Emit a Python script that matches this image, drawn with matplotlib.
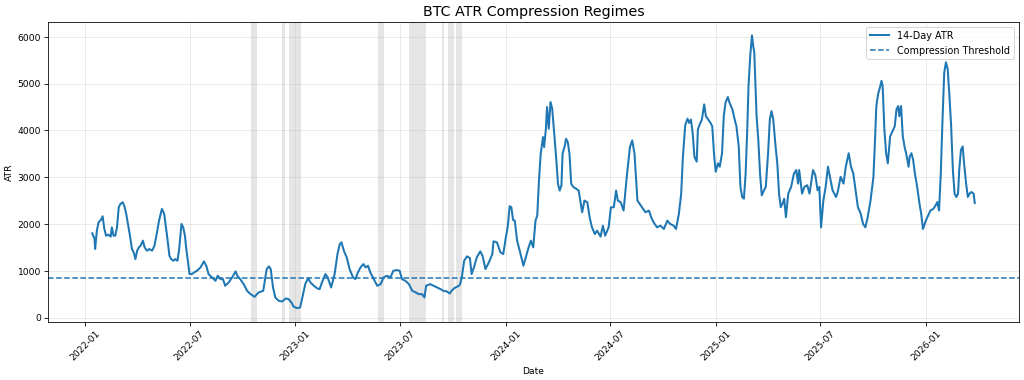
import matplotlib
matplotlib.use("Agg")
import matplotlib.pyplot as plt
import matplotlib.dates as mdates
import pandas as pd

# 14-day ATR readings, month-day per year
dates_2022 = ["01-13", "01-17", "01-18", "01-21", "01-24", "01-28", "01-31", "02-03", "02-06", "02-10",
              "02-14", "02-16", "02-19", "02-22", "02-25", "02-28", "03-03", "03-07", "03-10", "03-13",
              "03-16", "03-19", "03-23", "03-26", "03-29", "04-01", "04-04", "04-07", "04-11", "04-14",
              "04-18", "04-22", "04-27", "05-01", "05-05", "05-09", "05-14", "05-18", "05-21", "05-24",
              "05-27", "05-30", "06-03", "06-06", "06-10", "06-13", "06-17", "06-20", "06-23", "06-25",
              "06-28", "07-01", "07-05", "07-09", "07-14", "07-20", "07-26", "07-30", "08-03", "08-09",
              "08-15", "08-19", "08-24", "08-28", "09-01", "09-07", "09-13", "09-19", "09-22", "09-27",
              "10-03", "10-09", "10-15", "10-22", "10-29", "11-06", "11-12", "11-16", "11-19", "11-23",
              "11-27", "12-03", "12-09", "12-15", "12-20", "12-25", "12-29"]
atr_2022 = [1800, 1680, 1465, 1857, 2036, 2086, 2164, 1893, 1750, 1771,
            1729, 1929, 1750, 1750, 1929, 2357, 2429, 2464, 2371, 2214,
            2000, 1786, 1464, 1393, 1250, 1429, 1500, 1536, 1643, 1500,
            1429, 1464, 1429, 1536, 1786, 2071, 2321, 2214, 1929, 1643,
            1321, 1250, 1214, 1250, 1214, 1464, 2000, 1929, 1750, 1500,
            1214, 929, 929, 964, 1000, 1071, 1200, 1107, 929, 857,
            786, 893, 821, 821, 679, 750, 857, 986, 893, 821,
            714, 571, 500, 443, 536, 571, 1036, 1093, 1036, 643,
            429, 357, 343, 407, 393, 321, 229]

dates_2023 = ["01-04", "01-09", "01-13", "01-18", "01-23", "01-27", "02-02", "02-08", "02-12", "02-16",
              "02-22", "02-26", "03-04", "03-10", "03-15", "03-19", "03-22", "03-26", "03-31", "04-05",
              "04-11", "04-15", "04-19", "04-24", "04-29", "05-03", "05-07", "05-11", "05-17", "05-23",
              "05-29", "06-03", "06-09", "06-15", "06-20", "06-26", "07-01", "07-05", "07-11", "07-17",
              "07-23", "07-29", "08-03", "08-09", "08-13", "08-16", "08-23", "08-29", "09-04", "09-10",
              "09-15", "09-21", "09-26", "09-30", "10-06", "10-12", "10-14", "10-17", "10-21", "10-26",
              "10-31", "11-03", "11-07", "11-12", "11-18", "11-22", "11-27", "12-03", "12-09", "12-11",
              "12-17", "12-23", "12-28"]
atr_2023 = [200, 214, 429, 714, 843, 750, 679, 621, 607, 750,
            929, 857, 643, 929, 1357, 1571, 1607, 1429, 1286, 1036,
            857, 821, 950, 1071, 1143, 1071, 1107, 964, 821, 679,
            714, 857, 893, 857, 1000, 1014, 1000, 821, 786, 714,
            571, 536, 500, 500, 429, 679, 714, 679, 643, 607,
            571, 557, 514, 586, 643, 679, 714, 857, 1214, 1307,
            1271, 929, 1071, 1286, 1414, 1321, 1036, 1179, 1357, 1629,
            1607, 1393, 1357]

dates_2024 = ["01-01", "01-05", "01-08", "01-11", "01-14", "01-17", "01-21", "01-27", "02-01", "02-06",
              "02-10", "02-14", "02-18", "02-22", "02-25", "02-28", "03-02", "03-06", "03-08", "03-11",
              "03-13", "03-16", "03-19", "03-22", "03-25", "03-29", "04-01", "04-04", "04-07", "04-09",
              "04-13", "04-15", "04-18", "04-21", "04-24", "04-28", "05-03", "05-07", "05-13", "05-17",
              "05-22", "05-26", "05-30", "06-04", "06-08", "06-14", "06-18", "06-22", "06-28", "07-02",
              "07-07", "07-11", "07-14", "07-19", "07-24", "07-30", "08-04", "08-08", "08-12", "08-17",
              "08-21", "08-27", "08-31", "09-06", "09-10", "09-14", "09-20", "09-26", "10-02", "10-08",
              "10-13", "10-19", "10-23", "10-28", "11-01", "11-04", "11-08", "11-12", "11-15", "11-18",
              "11-21", "11-24", "11-28", "11-30", "12-03", "12-07", "12-11", "12-14", "12-18", "12-22",
              "12-25", "12-28", "12-31"]
atr_2024 = [1679, 1964, 2379, 2357, 2086, 2071, 1643, 1357, 1107, 1321,
            1500, 1643, 1500, 2071, 2179, 2929, 3500, 3857, 3643, 4036,
            4500, 4036, 4607, 4464, 4000, 3393, 2857, 2714, 2821, 3500,
            3679, 3821, 3750, 3500, 2857, 2786, 2750, 2714, 2250, 2500,
            2464, 2143, 1929, 1786, 1857, 1729, 1964, 1750, 1929, 2357,
            2357, 2714, 2500, 2464, 2286, 3071, 3643, 3786, 3500, 2500,
            2429, 2321, 2250, 2286, 2143, 2036, 1929, 1964, 1893, 2071,
            2000, 1964, 1893, 2214, 2643, 3429, 4107, 4250, 4160, 4232,
            3944, 3440, 3332, 4016, 4124, 4232, 4556, 4304, 4232, 4160,
            4088, 3512, 3116]

dates_2025 = ["01-04", "01-07", "01-11", "01-14", "01-17", "01-21", "01-24", "01-29", "02-02", "02-05",
              "02-09", "02-12", "02-15", "02-18", "02-21", "02-24", "02-26", "03-01", "03-04", "03-06",
              "03-08", "03-12", "03-15", "03-18", "03-21", "03-25", "03-28", "04-01", "04-04", "04-07",
              "04-10", "04-14", "04-17", "04-20", "04-23", "04-26", "04-29", "05-02", "05-06", "05-11",
              "05-16", "05-20", "05-23", "05-25", "05-30", "06-03", "06-08", "06-12", "06-18", "06-22",
              "06-26", "06-29", "07-02", "07-06", "07-10", "07-14", "07-18", "07-22", "07-28", "07-31",
              "08-05", "08-10", "08-14", "08-19", "08-23", "08-27", "08-31", "09-04", "09-09", "09-13",
              "09-17", "09-21", "09-26", "10-01", "10-04", "10-06", "10-09", "10-13", "10-15", "10-17",
              "10-20", "10-23", "10-26", "10-30", "11-03", "11-07", "11-10", "11-13", "11-15", "11-18",
              "11-21", "11-24", "11-28", "12-01", "12-03", "12-06", "12-09", "12-12", "12-16", "12-20",
              "12-23", "12-26", "12-31"]
atr_2025 = [3296, 3224, 3512, 4304, 4592, 4714, 4592, 4448, 4232, 4088,
            3656, 2792, 2576, 2540, 3080, 4088, 4952, 5600, 6032, 5816,
            5672, 4304, 3800, 3080, 2612, 2720, 2792, 3512, 4232, 4412,
            4232, 3656, 3296, 2648, 2360, 2432, 2540, 2144, 2648, 2792,
            3080, 3152, 2864, 3152, 2648, 2792, 2828, 2648, 3152, 3044,
            2720, 2792, 1928, 2504, 2792, 3224, 2972, 2720, 2576, 2684,
            3008, 2864, 3224, 3512, 3224, 3080, 2720, 2360, 2216, 2000,
            1928, 2144, 2504, 3008, 3872, 4520, 4772, 4952, 5060, 4952,
            4016, 3512, 3296, 3872, 3980, 4088, 4448, 4520, 4304, 4520,
            3872, 3656, 3440, 3224, 3440, 3512, 3368, 3080, 2792, 2432,
            2216, 1892, 2072]

dates_2026 = ["01-04", "01-08", "01-13", "01-17", "01-20", "01-23", "01-26", "01-29", "02-01", "02-04",
              "02-07", "02-10", "02-13", "02-16", "02-19", "02-22", "02-25", "02-27", "03-02", "03-05",
              "03-08", "03-11", "03-14", "03-17", "03-20", "03-24", "03-26"]
atr_2026 = [2180, 2288, 2324, 2396, 2468, 2288, 3080, 4232, 5240, 5456,
            5312, 4736, 4088, 3152, 2648, 2576, 2648, 3152, 3584, 3656,
            3224, 2864, 2576, 2648, 2684, 2648, 2448]

threshold = 850

# compression regimes (shaded)
regime_starts = ["2022-10-16", "2022-12-08", "2022-12-20", "2023-05-24",
                 "2023-07-18", "2023-09-12", "2023-09-23", "2023-10-06"]
regime_ends = ["2022-10-26", "2022-12-13", "2023-01-11", "2023-06-04",
               "2023-08-16", "2023-09-16", "2023-10-04", "2023-10-17"]

dates = []
atr = []
for year, d, v in [(2022, dates_2022, atr_2022), (2023, dates_2023, atr_2023),
                   (2024, dates_2024, atr_2024), (2025, dates_2025, atr_2025),
                   (2026, dates_2026, atr_2026)]:
    dates += [f"{year}-{md}" for md in d]
    atr += v
dates = pd.to_datetime(dates)

fig, ax = plt.subplots(figsize=(14, 5.2))
ax.plot(dates, atr, label="14-Day ATR", linewidth=2)
ax.axhline(threshold, color="C0", linestyle="--", linewidth=1.5, label="Compression Threshold")

for s, e in zip(regime_starts, regime_ends):
    ax.axvspan(pd.Timestamp(s), pd.Timestamp(e), color="gray", alpha=0.2, linewidth=0)

ax.set_title("BTC ATR Compression Regimes", fontsize=14)
ax.set_xlabel("Date", fontsize=9)
ax.set_ylabel("ATR", fontsize=9)
ax.xaxis.set_major_locator(mdates.MonthLocator(bymonth=[1, 7]))
ax.xaxis.set_major_formatter(mdates.DateFormatter("%Y-%m"))
ax.tick_params(labelsize=9)
plt.setp(ax.get_xticklabels(), rotation=45)
ax.grid(alpha=0.3)
ax.legend(loc="upper right", fontsize=9.5)

plt.subplots_adjust(left=0.047, right=0.995, top=0.942, bottom=0.153)
plt.savefig("out.png", dpi=1024 / 14)
